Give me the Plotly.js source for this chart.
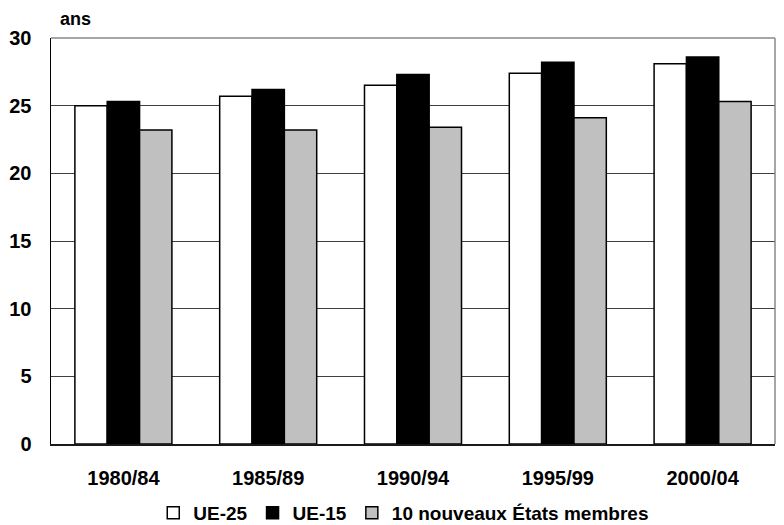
<!DOCTYPE html>
<html>
<head>
<meta charset="utf-8">
<script src="https://cdn.plot.ly/plotly-3.0.1.min.js"></script>
<style>html,body{margin:0;padding:0;background:#fff;}#chart{width:784px;height:525px;}</style>
</head>
<body>
<div id="chart"></div>
<script>
const periods = ["1980/84", "1985/89", "1990/94", "1995/99", "2000/04"];
const ue25 = [25.0, 25.7, 26.5, 27.4, 28.1];
const ue15 = [25.3, 26.2, 27.3, 28.2, 28.6];
const nouveaux = [23.2, 23.2, 23.4, 24.1, 25.3];
const seriesNames = ["UE-25", "UE-15", "10 nouveaux États membres"];
const seriesColors = ["#ffffff", "#000000", "#c0c0c0"];
const yTicks = [0, 5, 10, 15, 20, 25, 30];

const FONT = "Liberation Sans, Arial, sans-serif";
const values = [ue25, ue15, nouveaux];
const traces = values.map((v, i) => ({
  type: "bar",
  x: periods,
  y: v,
  name: seriesNames[i],
  marker: {color: seriesColors[i], line: {color: "#000000", width: 1.5}},
  hoverinfo: "x+y+name"
}));

const layout = {
  width: 784, height: 525,
  margin: {l: 51, r: 9, t: 38, b: 81},
  paper_bgcolor: "#ffffff", plot_bgcolor: "#ffffff",
  barmode: "group", bargap: 0.33, bargroupgap: 0,
  font: {family: FONT, color: "#000000"},
  xaxis: {
    type: "category",
    showline: true, linecolor: "#1a1a1a", linewidth: 1.5,
    ticks: "", showgrid: false,
    tickfont: {family: FONT, size: 20, weight: "bold", color: "#000"},
    ticklabelstandoff: 15
  },
  yaxis: {
    range: [0, 30], tickvals: yTicks, ticktext: yTicks.map(String),
    showline: true, linecolor: "#000000", linewidth: 1.5,
    showgrid: true, gridcolor: "#404040", gridwidth: 1,
    zeroline: false, ticks: "",
    tickfont: {family: FONT, size: 20, weight: "bold", color: "#000"},
    ticklabelstandoff: 14
  },
  shapes: [
    {type: "line", xref: "paper", yref: "paper", x0: 0, x1: 1, y0: 1, y1: 1, line: {color: "#888888", width: 1.5}},
    {type: "line", xref: "paper", yref: "paper", x0: 1, x1: 1, y0: 0, y1: 1, line: {color: "#888888", width: 1.5}}
  ],
  annotations: [
    {text: "ans", xref: "paper", yref: "paper", x: 0.009, y: 1.046, xanchor: "left", yanchor: "middle",
     showarrow: false, font: {family: FONT, size: 18, weight: "bold", color: "#000"}}
  ],
  showlegend: true,
  legend: {
    orientation: "h", xref: "container", x: 0.515, xanchor: "center",
    yref: "container", y: 12 / 525, yanchor: "middle",
    font: {family: FONT, size: 19, weight: "bold", color: "#000"},
    itemwidth: 30, tracegroupgap: 0, traceorder: "normal", bgcolor: "rgba(0,0,0,0)"
  }
};

Plotly.newPlot("chart", traces, layout, {displayModeBar: false, staticPlot: true});
</script>
</body>
</html>
